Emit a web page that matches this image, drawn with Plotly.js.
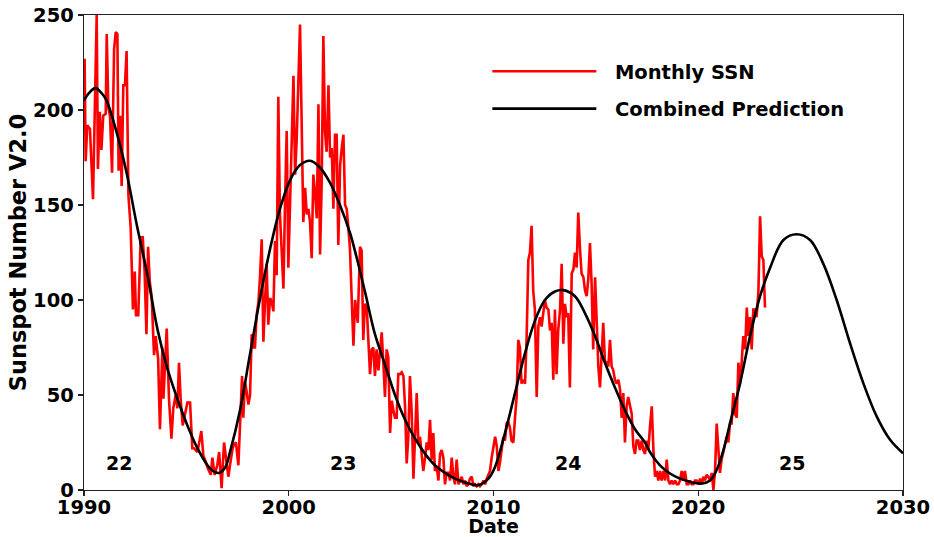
<!DOCTYPE html>
<html><head><meta charset="utf-8">
<script src="https://cdn.plot.ly/plotly-3.0.1.min.js"></script>
<style>html,body{margin:0;padding:0;background:#fff}#chart{width:934px;height:537px}</style>
</head><body><div id="chart"></div><script>
// Monthly sunspot number (V2.0)
const ssnYears = [
1990.03,1990.08,1990.16,1990.29,1990.44,1990.52,1990.62,1990.68,1990.77,1990.85,1990.94,1991.06,1991.11,1991.19,1991.27,1991.37,1991.47,1991.55,1991.63,1991.69,1991.76,1991.84,1991.92,1992.0,1992.08,1992.12,1992.17,1992.28,1992.39,1992.48,1992.54,1992.65,1992.77,1992.87,1992.96,1993.05,1993.13,1993.21,1993.31,1993.42,1993.5,1993.62,1993.71,1993.83,1993.88,1994.04,1994.15,1994.27,1994.36,1994.48,1994.56,1994.64,1994.72,1994.82,1994.92,1995.05,1995.18,1995.29,1995.37,1995.54,1995.73,1995.83,1995.94,1996.06,1996.19,1996.27,1996.38,1996.51,1996.6,1996.72,1996.84,1996.94,1997.05,1997.13,1997.26,1997.33,1997.42,1997.54,1997.62,1997.72,1997.78,1997.86,1997.94,1998.03,1998.11,1998.19,1998.27,1998.35,1998.43,1998.52,1998.6,1998.68,1998.76,1998.84,1998.92,1999.0,1999.09,1999.17,1999.25,1999.33,1999.41,1999.49,1999.57,1999.65,1999.74,1999.82,1999.9,1999.98,2000.06,2000.14,2000.23,2000.31,2000.39,2000.47,2000.55,2000.63,2000.71,2000.8,2000.88,2000.96,2001.04,2001.12,2001.2,2001.28,2001.37,2001.45,2001.53,2001.61,2001.69,2001.77,2001.85,2001.94,2002.02,2002.1,2002.18,2002.26,2002.34,2002.42,2002.51,2002.59,2002.67,2002.75,2002.83,2002.91,2002.99,2003.08,2003.16,2003.24,2003.37,2003.48,2003.56,2003.64,2003.72,2003.81,2003.89,2003.97,2004.05,2004.13,2004.21,2004.29,2004.38,2004.46,2004.54,2004.62,2004.7,2004.78,2004.86,2004.95,2005.03,2005.11,2005.19,2005.27,2005.35,2005.43,2005.52,2005.6,2005.68,2005.76,2005.84,2005.92,2006.0,2006.09,2006.17,2006.25,2006.33,2006.41,2006.49,2006.57,2006.66,2006.74,2006.82,2006.9,2006.98,2007.06,2007.14,2007.23,2007.31,2007.39,2007.47,2007.55,2007.63,2007.71,2007.8,2007.88,2007.96,2008.04,2008.12,2008.2,2008.29,2008.37,2008.45,2008.53,2008.61,2008.69,2008.77,2008.85,2008.94,2009.02,2009.1,2009.18,2009.26,2009.34,2009.42,2009.51,2009.59,2009.67,2009.75,2009.83,2009.91,2009.99,2010.08,2010.16,2010.24,2010.31,2010.4,2010.48,2010.56,2010.64,2010.72,2010.8,2010.88,2010.97,2011.05,2011.13,2011.21,2011.29,2011.37,2011.45,2011.54,2011.62,2011.7,2011.78,2011.86,2011.94,2012.02,2012.11,2012.19,2012.27,2012.35,2012.43,2012.51,2012.59,2012.68,2012.76,2012.84,2012.92,2013.0,2013.08,2013.16,2013.25,2013.33,2013.41,2013.49,2013.57,2013.65,2013.73,2013.82,2013.9,2013.98,2014.06,2014.14,2014.22,2014.3,2014.39,2014.47,2014.55,2014.63,2014.71,2014.79,2014.87,2014.96,2015.04,2015.12,2015.2,2015.28,2015.36,2015.44,2015.53,2015.61,2015.69,2015.77,2015.85,2015.93,2016.01,2016.1,2016.18,2016.26,2016.34,2016.42,2016.5,2016.58,2016.67,2016.75,2016.83,2016.91,2016.99,2017.07,2017.15,2017.24,2017.32,2017.4,2017.48,2017.56,2017.64,2017.73,2017.81,2017.89,2017.97,2018.05,2018.13,2018.21,2018.3,2018.38,2018.46,2018.54,2018.62,2018.7,2018.78,2018.87,2018.95,2019.03,2019.11,2019.19,2019.27,2019.35,2019.44,2019.52,2019.6,2019.68,2019.76,2019.84,2019.92,2020.01,2020.09,2020.17,2020.25,2020.33,2020.41,2020.49,2020.58,2020.66,2020.74,2020.82,2020.9,2020.98,2021.06,2021.14,2021.23,2021.31,2021.39,2021.47,2021.55,2021.63,2021.71,2021.8,2021.88,2021.96,2022.04,2022.12,2022.2,2022.29,2022.37,2022.45,2022.53,2022.61,2022.69,2022.77,2022.85,2022.94,2023.02,2023.1,2023.18,2023.26
];
const ssnValues = [
227,173,192,190,153,201,250,169,199,179,197,198,240,201,197,167,232,241,240,168,197,160,213,213,231,197,155,138,95,115,92,92,133,133,115,82,128,110,101,71,81,69,32,75,48,85,48,27,43,50,43,67,48,34,39,46,46,22,22,20,31,18,15,11,8,17,8,13,20,1,25,17,7,13,22,24,25,13,39,60,38,57,52,45,50,82,75,75,92,99,113,132,78,104,119,87,101,99,94,131,113,207,145,127,106,152,189,117,152,180,218,166,185,215,245,194,141,159,145,148,141,122,166,157,143,203,124,162,239,189,178,213,175,180,148,187,187,129,171,180,187,150,148,138,127,99,76,100,88,128,126,79,98,96,81,61,74,75,60,74,63,72,83,67,49,74,70,30,47,42,38,38,61,61,62,60,44,14,28,60,42,6,25,51,25,28,19,10,17,25,21,37,16,30,10,12,5,19,21,17,3,9,9,5,17,7,3,16,3,5,7,3,5,2,3,6,7,2,3,2,3,2,3,5,3,6,8,10,17,23,28,23,10,14,21,28,26,35,36,33,26,25,38,49,79,75,56,58,56,81,121,125,139,105,95,49,86,91,86,95,100,96,95,84,88,58,95,61,84,95,119,77,98,91,93,54,114,116,125,117,146,128,114,112,105,102,111,130,109,74,112,89,65,54,75,88,68,67,65,79,65,63,58,56,58,53,38,51,25,44,49,44,40,23,19,26,26,21,26,21,19,26,21,33,44,21,7,10,5,10,5,10,5,16,5,3,5,3,5,3,3,5,10,5,10,3,3,5,3,3,5,5,3,6,3,7,5,8,7,5,9,0,10,35,21,9,16,21,25,28,25,35,35,51,40,38,67,56,67,81,74,96,81,91,74,95,95,91,105,144,123,121,96
];
// Combined prediction curve
const predYears = [1990.0,1990.25,1990.55,1990.85,1991.1,1991.6,1992.08,1992.57,1993.1,1993.6,1994.07,1994.56,1995.05,1995.54,1996.03,1996.3,1996.6,1996.9,1997.13,1997.62,1998.1,1998.6,1999.09,1999.57,2000.06,2000.55,2001.04,2001.5,2002.0,2002.5,2003.0,2003.3,2003.73,2004.21,2004.7,2005.19,2005.68,2006.17,2006.66,2007.14,2007.63,2008.12,2008.61,2009.26,2009.75,2010.07,2010.56,2011.05,2011.54,2012.02,2012.51,2013.0,2013.41,2013.98,2014.47,2014.96,2015.44,2015.93,2016.42,2016.91,2017.4,2017.64,2018.13,2018.62,2019.11,2019.6,2020.17,2020.58,2020.9,2021.23,2021.55,2022.04,2022.53,2023.02,2023.51,2024.16,2024.81,2025.46,2026.11,2026.76,2027.42,2028.07,2028.72,2029.37,2030.0];
const predValues = [205,209,211.5,209,205,188,167,140,113,84,64,48,34,22,13,10,9,12,20,42,71,101,127,148,163,171,173.3,170,162,150,135,123,104,82,66,50,37,27,19,13,9,6,4,2.6,6,12,30,51,72,89,100,104.5,105.2,102,93,81,67,54,42,32,25,20,13,8.7,6,4.3,3.4,5,10.5,21,35,56,81,102,117,131.6,134.6,131.6,119,100,77,56,38.6,26.4,19.3];
const cycleLabels = ['22','23','24','25'];
const cycleLabelYears = [1991.7,2002.65,2013.65,2024.6];
const cycleLabelValue = 14;
const seriesNames = ['Monthly SSN','Combined Prediction'];

const FONT = 'DejaVu Sans, Liberation Sans, sans-serif';
const PAD = '\u00a0\u00a0';
const traces = [
  {x: ssnYears, y: ssnValues, type:'scatter', mode:'lines', name: PAD + seriesNames[0],
   line:{color:'#ff0000', width:2.6}, legendgroup:'a'},
  {x: predYears, y: predValues, type:'scatter', mode:'lines', name: PAD + seriesNames[1],
   line:{color:'#000000', width:2.6, shape:'spline', smoothing:1}, legendgroup:'b'}
];
const annotations = cycleLabels.map((t,i)=>({
  x: cycleLabelYears[i], y: cycleLabelValue, xref:'x', yref:'y', text:t, showarrow:false,
  font:{family:FONT, size:19, color:'#000', weight:'bold'}
}));
const layout = {
  width:934, height:537,
  margin:{l:84, r:31, t:15, b:47},
  paper_bgcolor:'#fff', plot_bgcolor:'#fff',
  showlegend:true,
  legend:{x:0.4925, y:0.922, xanchor:'left', yanchor:'top', bgcolor:'rgba(0,0,0,0)',
    font:{family:FONT, size:19.5, color:'#000', weight:'bold'}, itemwidth:104,
    tracegroupgap:9, traceorder:'grouped'},
  xaxis:{range:[1990,2030], tickvals:[1990,2000,2010,2020,2030], ticktext:['1990','2000','2010','2020','2030'],
    showgrid:false, zeroline:false, showline:true, linecolor:'#222', linewidth:1.3, mirror:true,
    ticks:'outside', ticklen:5, tickwidth:1.3, tickcolor:'#222', ticklabelstandoff:-6,
    tickfont:{family:FONT, size:19.5, color:'#000', weight:'bold'},
    title:{text:'Date', font:{family:FONT, size:19, color:'#000', weight:'bold'}, standoff:2}},
  yaxis:{range:[0,250], tickvals:[0,50,100,150,200,250],
    showgrid:false, zeroline:false, showline:true, linecolor:'#222', linewidth:1.3, mirror:true,
    ticks:'outside', ticklen:5, tickwidth:1.3, tickcolor:'#222',
    tickfont:{family:FONT, size:19.5, color:'#000', weight:'bold'},
    title:{text:'Sunspot Number V2.0', font:{family:FONT, size:22.5, color:'#000', weight:'bold'}, standoff:0}},
  annotations: annotations
};
Plotly.newPlot('chart', traces, layout, {staticPlot:true, displayModeBar:false});
</script></body></html>
